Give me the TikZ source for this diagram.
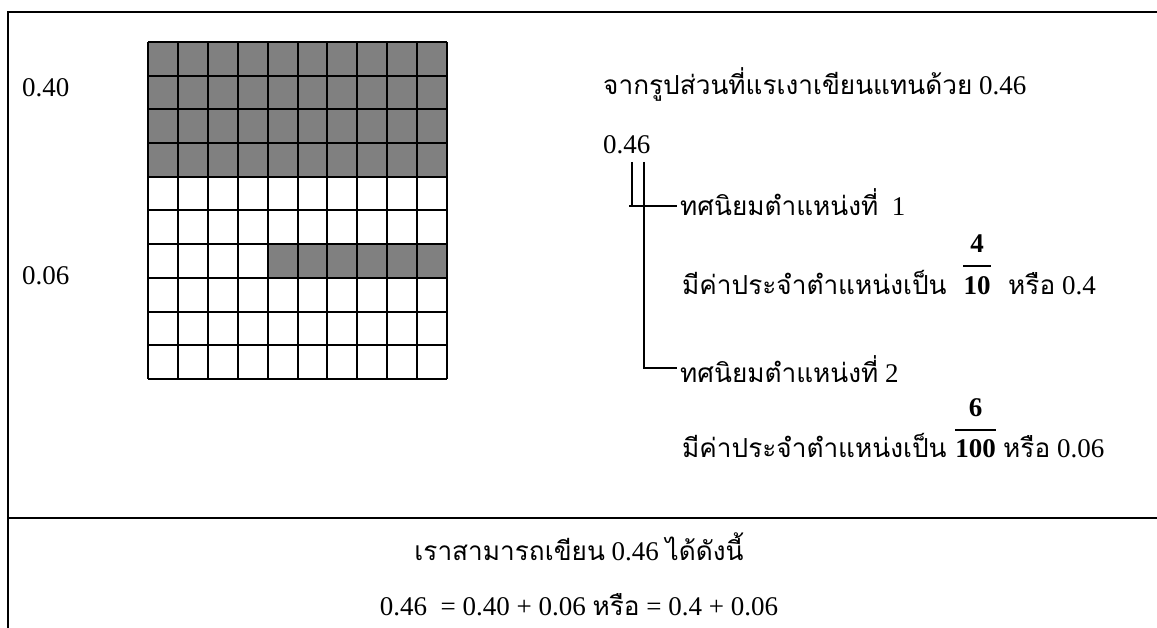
\documentclass[tikz,border=0pt]{standalone}
\usepackage{fontspec}
\setmainfont{Liberation Serif}
\newfontfamily\thaifont[Script=Thai, Scale=0.97]{Loma}
\newcommand\thai[1]{{\thaifont #1}}
\usetikzlibrary{positioning}

\begin{document}
\begin{tikzpicture}[x=1pt, y=-1pt, >=latex]
    \tikzstyle{txt}=[inner sep=0pt, anchor=base west, font=\fontsize{27}{32}\selectfont]
    \tikzstyle{frac}=[inner sep=0pt, anchor=base, font=\fontsize{27}{32}\selectfont\bfseries]
    \tikzstyle{rule}=[line width=2pt]
    \tikzstyle{brace}=[line width=1.5pt]

    \useasboundingbox (0,0) rectangle (1157,628);

    % table frame
    \draw[line width=2.5pt] (1157,12) -- (8,12) -- (8,628);
    \draw[line width=2.5pt] (8,518) -- (1157,518);

    % hundred square
    \fill[gray] (148,42) rectangle (447,176.8);
    \fill[gray] (267.6,244.2) rectangle (447,277.9);
    \foreach \i in {0,...,10}
        \draw[rule] (148+\i*29.9,42) -- (148+\i*29.9,379);
    \foreach \j in {0,...,10}
        \draw[rule] (148,42+\j*33.7) -- (447,42+\j*33.7);

    \node[txt] (l40) at (22,97) {0.40};
    \node[txt] (l06) at (22,285) {0.06};

    % place values
    \node[txt] (head) at (603,95) {\thai{จากรูปส่วนที่แรเงาเขียนแทนด้วย} 0.46};
    \node[txt] (num) at (603,154) {0.46};
    \coordinate (d4) at (632,162);
    \coordinate (d6) at (644,162);

    \node[txt] (dec1) at (680,216) {\thai{ทศนิยมตำแหน่งที่}\ \ 1};
    \node[txt] (val1) at (682,295) {\thai{มีค่าประจำตำแหน่งเป็น}};
    \node[frac] (den1) at (977,295) {10};
    \node[frac] (nom1) at (977,253) {4};
    \node[txt] (or1) at (1008,295) {\thai{หรือ} 0.4};

    \node[txt] (dec2) at (680,382) {\thai{ทศนิยมตำแหน่งที่} 2};
    \node[txt] (val2) at (682,457) {\thai{มีค่าประจำตำแหน่งเป็น}};
    \node[frac] (den2) at (975.5,457) {100};
    \node[frac] (nom2) at (975.5,417) {6};
    \node[txt] (or2) at (1003,457) {\thai{หรือ} 0.06};

    \coordinate (t1) at (677,206);
    \coordinate (t2) at (677,368);
    \draw[brace] (d4) -- (d4 |- t1);
    \draw[brace] ([xshift=-3pt]d4 |- t1) -- (t1);
    \draw[brace] (d6) |- (t2);
    \draw[brace] ([yshift=11pt]den1.north west) -- ([yshift=11pt]den1.north east);
    \draw[brace] ([yshift=9pt]den2.north west) -- ([yshift=9pt]den2.north east);

    % summary row
    \node[txt, anchor=base] (sum1) at (579,560) {\thai{เราสามารถเขียน} 0.46 \thai{ได้ดังนี้}};
    \node[txt, anchor=base] (sum2) at (579,615) {0.46 \ = 0.40 + 0.06 \thai{หรือ} = 0.4 + 0.06};
\end{tikzpicture}
\end{document}
